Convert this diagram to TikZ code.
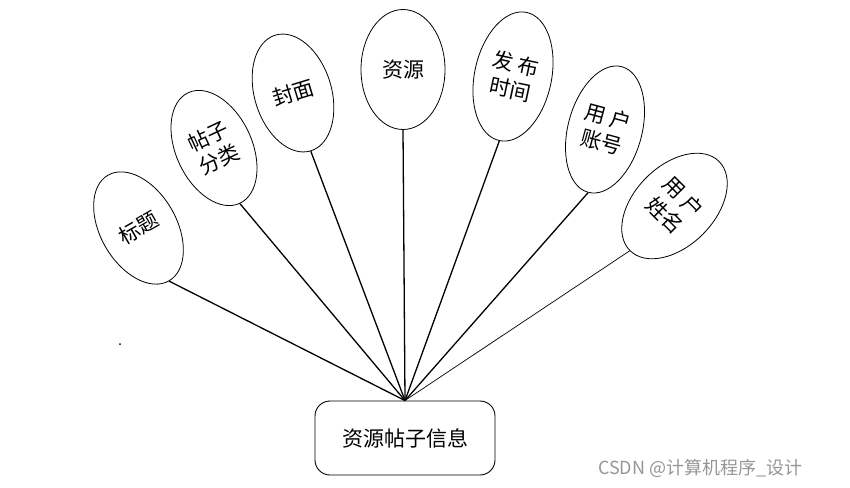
\documentclass[tikz,border=0pt]{standalone}
\usepackage{fontspec}
\setmainfont{Noto Sans CJK SC}
\usetikzlibrary{shapes.geometric}
\definecolor{wmgray}{RGB}{150,150,150}
\begin{document}
\begin{tikzpicture}[x=1pt,y=-1pt,
  attr/.style={ellipse, draw, line width=0.8pt, inner sep=0pt, align=center,
    font=\fontsize{21}{26}\selectfont},
  link/.style={line width=1.3pt},
  thinlink/.style={line width=0.7pt},
  entity/.style={draw, rounded corners=15pt, line width=0.9pt,
    minimum width=180pt, minimum height=74pt, font=\fontsize{21}{24}\selectfont},
  watermark/.style={font=\fontsize{18}{20}\selectfont, text=wmgray, anchor=west, inner sep=0pt}]
\useasboundingbox (0,0) rectangle (850,487);
\node[attr, minimum width=76pt, minimum height=122pt, rotate=30] (t1) at (138.5,228) {标题};
\node[attr, minimum width=76pt, minimum height=122pt, rotate=25] (t2) at (214,148) {帖子\\分类};
\node[attr, minimum width=77pt, minimum height=121pt, rotate=17] (t3) at (293,93) {封面};
\node[attr, minimum width=84pt, minimum height=120pt] (t4) at (403,69.5) {资源};
\node[attr, minimum width=77pt, minimum height=131pt, rotate=-12] (t5) at (513,76.5) {发 布\\时间};
\node[attr, minimum width=74pt, minimum height=130pt, rotate=-15] (t6) at (605,129.5) {用 户\\账号};
\node[attr, minimum width=80pt, minimum height=126pt, rotate=-45] (t7) at (674.5,206) {用 户\\姓名};
\node[entity] (box) at (405,438) {资源帖子信息};
\node[circle, fill, inner sep=0pt, minimum size=2pt] (dot) at (120,344) {};
\node[watermark] (wm) at (598,468) {CSDN @计算机程序\_设计};
\draw[link] (t1.south) -- (box.north);
\draw[link] (t2.south) -- (box.north);
\draw[link] (t3.south) -- (box.north);
\draw[link] (t4.south) -- (box.north);
\draw[link] (t5.south) -- (box.north);
\draw[link] (t6.south) -- (box.north);
\draw[thinlink] (t7.south) -- (box.north);
\end{tikzpicture}
\end{document}
